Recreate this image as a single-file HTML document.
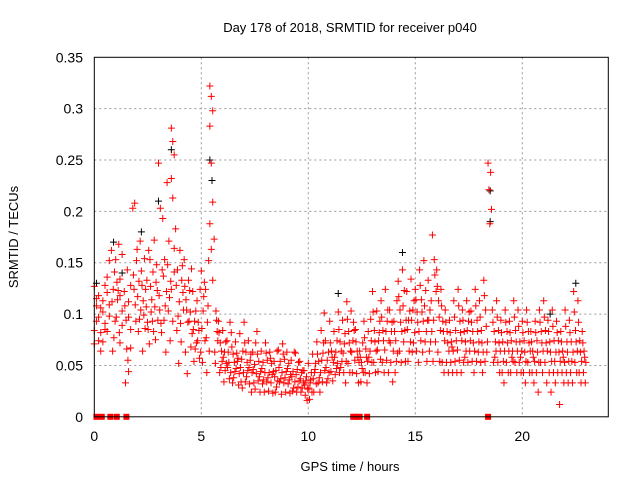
<!DOCTYPE html>
<html><head><meta charset="utf-8"><style>
body{margin:0;background:#fff;}
svg{display:block;font-family:"Liberation Sans",sans-serif;}
</style></head><body>
<svg id="chart" width="640" height="480">
<text x="350" y="32" text-anchor="middle" font-size="13">Day 178 of 2018, SRMTID for receiver p040</text>
<text x="350" y="471" text-anchor="middle" font-size="13">GPS time / hours</text>
<text transform="translate(18,237) rotate(-90)" text-anchor="middle" font-size="13">SRMTID / TECUs</text>
<g id="grid"></g><g id="marks"></g>
<rect x="94.3" y="57.3" width="514" height="359.5" fill="none" stroke="#000" stroke-width="1"/>
<g id="ticks"></g>
</svg>
<script>
const xTicks=[0,5,10,15,20];
const yTicks=[0,0.05,0.1,0.15,0.2,0.25,0.3,0.35];
const yTickLabels=["0","0.05","0.1","0.15","0.2","0.25","0.3","0.35"];
const hours=[0.0,0.2,0.4,0.6,0.8,1.0,1.2,1.4,1.6,1.8,2.0,2.2,2.4,2.6,2.8,3.0,3.2,3.4,3.6,3.8,4.0,4.2,4.4,4.6,4.8,5.0,5.2,5.4,5.6,5.8,6.0,6.2,6.4,6.6,6.8,7.0,7.2,7.4,7.6,7.8,8.0,8.2,8.4,8.6,8.8,9.0,9.2,9.4,9.6,9.8,10.0,10.2,10.4,10.6,10.8,11.0,11.2,11.4,11.6,11.8,12.0,12.2,12.4,12.6,12.8,13.0,13.2,13.4,13.6,13.8,14.0,14.2,14.4,14.6,14.8,15.0,15.2,15.4,15.6,15.8,16.0,16.2,16.4,16.6,16.8,17.0,17.2,17.4,17.6,17.8,18.0,18.2,18.4,18.6,18.8,19.0,19.2,19.4,19.6,19.8,20.0,20.2,20.4,20.6,20.8,21.0,21.2,21.4,21.6,21.8,22.0,22.2,22.4,22.6,22.8];
const redValues=[
[.127,.093,.071,.108,.084,.115],[.118,.082,.097,.064,.074,.106],[.113,.091,.073,.128,.102,.085],[.121,.098,.083,.152,.136,.109],[.162,.124,.093,.064,.141,.112,.077],
[.153,.114,.082,.131,.168,.097,.123],[.134,.103,.072,.158,.118,.089],[.122,.094,.055,.033,.143,.108,.066],[.112,.085,.044,.128,.097,.067],[.203,.208,.152,.124,.093,.138,.109],
[.163,.132,.104,.083,.171,.117,.095],[.142,.113,.086,.064,.154,.128,.099],[.124,.092,.071,.133,.162,.107,.085],[.153,.114,.083,.102,.141,.127,.093],[.172,.131,.094,.075,.123,.107,.148],
[.247,.203,.143,.104,.082,.118,.091],[.193,.153,.122,.094,.063,.137,.108],[.228,.171,.132,.103,.074,.148,.116],[.281,.268,.255,.232,.213,.164,.124,.093,.141],[.183,.143,.112,.084,.052,.128,.098],
[.162,.133,.104,.073,.121,.091,.147],[.153,.114,.092,.063,.042,.127,.104],[.133,.102,.081,.123,.144,.093,.068],[.122,.093,.072,.054,.103,.085,.066],[.113,.084,.063,.092,.124,.074,.057],
[.142,.103,.074,.053,.131,.086,.117],[.124,.092,.064,.043,.152,.077,.108],[.322,.312,.298,.283,.247,.209,.188,.163,.133],[.173,.103,.074,.052,.083,.063,.094],[.093,.072,.054,.043,.064,.082,.048],
[.084,.063,.052,.034,.073,.058,.045],[.074,.053,.043,.063,.092,.048,.037],[.082,.061,.044,.033,.053,.068,.038],[.073,.054,.042,.062,.031,.047,.057],[.081,.056,.043,.034,.064,.048,.028],
[.092,.063,.045,.034,.053,.072,.039],[.074,.055,.043,.032,.024,.048,.061],[.063,.051,.042,.033,.072,.046,.027],[.083,.054,.044,.035,.024,.061,.039],[.064,.053,.043,.032,.024,.047,.036],
[.072,.055,.043,.034,.025,.062,.038],[.063,.052,.044,.033,.023,.057,.041],[.054,.045,.035,.024,.064,.039,.029],[.065,.054,.043,.034,.022,.048,.037],[.071,.056,.044,.033,.024,.061,.038],
[.063,.052,.041,.032,.023,.047,.036],[.055,.044,.034,.025,.063,.039,.028],[.062,.046,.035,.024,.053,.041,.029],[.054,.043,.033,.024,.045,.037,.028],[.045,.035,.027,.021,.016,.031,.039],
[.052,.033,.024,.017,.043,.028,.036],[.061,.043,.032,.024,.052,.037,.046],[.073,.054,.043,.033,.024,.061,.038],[.084,.062,.045,.034,.101,.055,.072],[.074,.055,.043,.033,.063,.048,.037],
[.093,.064,.053,.044,.035,.072,.058],[.083,.063,.052,.041,.074,.058,.047],[.102,.073,.054,.043,.064,.085,.048],[.094,.071,.054,.043,.033,.062,.081],[.112,.083,.064,.052,.043,.095,.072],
[.103,.074,.055,.043,.084,.063,.092],[.085,.064,.053,.042,.033,.073,.058],[.064,.053,.043,.034,.072,.058,.047],[.093,.066,.054,.043,.033,.077,.058],[.083,.064,.053,.042,.074,.058,.095],
[.122,.084,.064,.053,.043,.102,.073],[.103,.074,.056,.044,.093,.065,.082],[.113,.084,.065,.053,.043,.097,.074],[.124,.093,.074,.055,.043,.083,.104],[.104,.083,.064,.053,.034,.072,.092],
[.093,.074,.062,.043,.113,.083,.054],[.132,.104,.083,.064,.053,.117,.092],[.143,.123,.094,.073,.054,.108,.084],[.122,.094,.073,.054,.103,.085,.064],[.134,.104,.082,.063,.113,.094,.072],
[.124,.102,.083,.064,.053,.114,.092],[.143,.114,.093,.074,.063,.128,.102],[.152,.123,.094,.073,.054,.108,.083],[.133,.104,.083,.064,.113,.094,.073],[.177,.153,.122,.094,.073,.054,.138],
[.143,.113,.084,.063,.054,.127,.097],[.124,.093,.074,.053,.043,.108,.083],[.104,.083,.064,.053,.043,.092,.072],[.094,.073,.064,.053,.043,.082,.068],[.113,.084,.065,.054,.043,.097,.074],
[.124,.093,.074,.055,.043,.108,.082],[.104,.083,.064,.053,.073,.094,.058],[.113,.093,.074,.053,.064,.084,.102],[.103,.083,.064,.054,.043,.092,.072],[.124,.094,.073,.054,.063,.108,.083],
[.113,.084,.063,.053,.043,.097,.072],[.133,.104,.073,.054,.063,.118,.088],[.247,.238,.221,.202,.188],[.104,.083,.064,.053,.073,.092,.058],[.113,.084,.064,.053,.043,.097,.072],
[.094,.073,.064,.043,.033,.082,.054],[.104,.083,.064,.053,.043,.092,.072],[.093,.074,.054,.043,.064,.082,.058],[.113,.084,.064,.053,.043,.097,.073],[.104,.073,.064,.053,.043,.088,.058],
[.093,.074,.054,.043,.033,.082,.063],[.104,.083,.064,.053,.043,.092,.072],[.083,.064,.054,.043,.033,.073,.058],[.093,.074,.053,.043,.024,.082,.063],[.104,.083,.064,.053,.043,.092,.072],
[.113,.084,.064,.053,.033,.097,.072],[.094,.073,.054,.043,.024,.083,.063],[.104,.074,.063,.043,.033,.088,.054],[.093,.074,.054,.043,.012,.082,.063],[.083,.064,.053,.043,.033,.073,.058],
[.104,.073,.054,.043,.033,.088,.063],[.094,.073,.063,.043,.033,.082,.054],[.122,.084,.064,.053,.043,.102,.073],[.113,.074,.054,.043,.033,.092,.063],[.083,.064,.053,.043,.033,.072,.058]];
const blackHours=[0.1,0.9,1.3,2.2,3.0,3.6,5.4,5.5,11.4,14.4,18.5,18.5,21.3,22.5];
const blackValues=[.13,.17,.14,.18,.21,.26,.25,.23,.12,.16,.19,.22,.10,.13];
const zeroHours=[0.1,0.35,0.75,1.05,1.5,12.1,12.25,12.4,12.75,18.4];

const NS="http://www.w3.org/2000/svg";
const X0=94.3,PXH=21.4,Y0=416.8,PXV=359.5/0.35;
function xs(h){return X0+h*PXH;}
function ys(v){return Y0-v*PXV;}
const grid=document.getElementById('grid'),marks=document.getElementById('marks'),ticks=document.getElementById('ticks');
function mk(tag,attrs,parent){const e=document.createElementNS(NS,tag);for(const k in attrs)e.setAttribute(k,attrs[k]);parent.appendChild(e);return e;}
xTicks.forEach(t=>{
  const x=xs(t);
  if(t>0){const g=mk('line',{x1:x,x2:x,y1:57.3,y2:416.8,stroke:'#999','stroke-dasharray':'2,3'},grid);
  
  }
  const tx=mk('text',{x:x,y:441,'text-anchor':'middle','font-size':'14'},ticks);tx.textContent=String(t);
  
  
});
yTicks.forEach((t,i)=>{
  const y=ys(t);
  if(i>0&&i<yTicks.length-1){const g=mk('line',{x1:94.3,x2:608.3,y1:y,y2:y,stroke:'#999','stroke-dasharray':'2,3'},grid);
  
  }
  const tx=mk('text',{x:83,y:y+5,'text-anchor':'end','font-size':'14'},ticks);tx.textContent=yTickLabels[i];
  
  
});
function cross(x,y,color,name){
  const p=mk('path',{d:`M${x-3.5},${y}h7M${x},${y-3.5}v7`,stroke:color,'stroke-width':'1',fill:'none'},marks);
  
  
}
blackHours.forEach((h,i)=>cross(xs(h),ys(blackValues[i]),'#000','black-point'));
hours.forEach((h,i)=>{
  const vals=redValues[i];
  vals.forEach((v,j)=>cross(xs(h+0.2*((j*3)%vals.length)/vals.length),ys(v),'#f00','red-point'));
});
zeroHours.forEach(h=>{
  const r=mk('rect',{x:xs(h)-3,y:Y0-3,width:6,height:6,fill:'#f00'},marks);
  
  
});
</script>
</body></html>
